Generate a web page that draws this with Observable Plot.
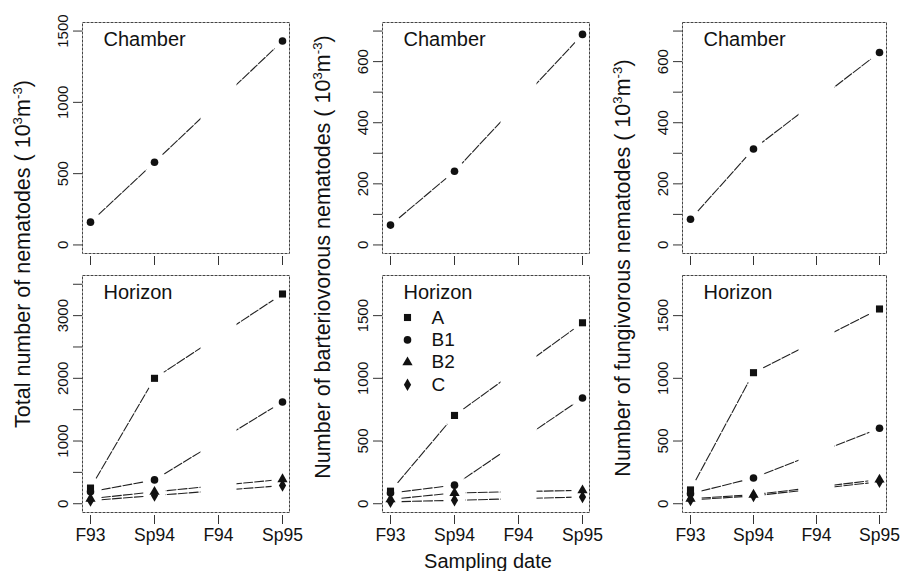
<!DOCTYPE html>
<html><head><meta charset="utf-8">
<script src="https://cdn.jsdelivr.net/npm/d3@7"></script>
<script src="https://cdn.jsdelivr.net/npm/@observablehq/plot@0.6"></script>
<style>
body{margin:0;background:#fff;}
#fig{position:relative;width:901px;height:571px;font-family:"Liberation Sans",Arial,Helvetica,sans-serif;color:#111;overflow:hidden;background:#fff}
.panel{position:absolute;overflow:visible}
.ytitle{position:absolute;white-space:nowrap;font-size:21.5px;transform:translate(-50%,-50%) rotate(-90deg);}
.ytitle sup{font-size:0.62em;vertical-align:0.55em;line-height:0}
.xtitle{position:absolute;white-space:nowrap;font-size:20px;transform:translate(-50%,-50%);}
</style></head><body><div id="fig"></div>
<script>
// ---- data ----
const dates = ["F93", "Sp94", "F94", "Sp95"];
const sampled = ["F93", "Sp94", "Sp95"];
const horizons = ["A", "B1", "B2", "C"];
const horizonSymbols = ["square", "circle", "triangle", "diamond"];

const chamberTotal = [160, 580, 1430];
const chamberBact = [65, 241, 689];
const chamberFung = [84, 314, 630];

const totalA = [250, 2000, 3345];
const totalB1 = [190, 380, 1623];
const totalB2 = [80, 190, 390];
const totalC = [50, 130, 290];

const bactA = [100, 704, 1443];
const bactB1 = [85, 148, 843];
const bactB2 = [35, 86, 107];
const bactC = [15, 27, 54];

const fungA = [110, 1045, 1553];
const fungB1 = [80, 205, 602];
const fungB2 = [40, 72, 192];
const fungC = [30, 62, 175];

const ticksTotalTop = [0, 500, 1000, 1500];
const labelsTotalTop = [0, 500, 1000, 1500];
const ticksGroupTop = [0, 100, 200, 300, 400, 500, 600, 700];
const labelsGroupTop = [0, 200, 400, 600];
const ticksTotalBottom = [0, 500, 1000, 1500, 2000, 2500, 3000, 3500];
const labelsTotalBottom = [0, 1000, 2000, 3000];
const ticksGroupBottom = [0, 500, 1000, 1500];
const labelsGroupBottom = [0, 500, 1000, 1500];

const yTitles = [
  "Total number of nematodes ( 10<sup>3</sup>m<sup>-3</sup>)",
  "Number of barteriovorous nematodes ( 10<sup>3</sup>m<sup>-3</sup>)",
  "Number of fungivorous nematodes ( 10<sup>3</sup>m<sup>-3</sup>)"
];
const xTitle = "Sampling date";

// ---- drawing ----
const fig = document.getElementById("fig");
const FONT = "Liberation Sans, Arial, Helvetica, sans-serif";

function toRows(name, values) {
  return values.map((v, i) => ({date: sampled[i], value: v, h: name}));
}

function panel({col, row, series, yDomain, yTicks, yLabels, label, legend}) {
  const top = row === 0 ? 0 : 255;
  const height = row === 0 ? 275 : 316;
  const mt = row === 0 ? 22 : 20;
  const mb = row === 0 ? 22 : 59;
  const mr = col === 2 ? 14 : 11;
  const all = series.flatMap(s => toRows(s.name, s.values));
  const marks = [];
  for (const s of series) {
    marks.push(Plot.line(toRows(s.name, s.values), {x: "date", y: "value", stroke: "#222", strokeWidth: 1.1, strokeDasharray: "9,2"}));
  }
  marks.push(Plot.ruleX(["F94"], {x: d => d, stroke: "white", strokeWidth: 36}));
  marks.push(Plot.dot(all, {x: "date", y: "value", r: 11, fill: "white", stroke: null}));
  for (const s of series) {
    marks.push(Plot.dot(toRows(s.name, s.values), {x: "date", y: "value", symbol: s.symbol, r: s.symbol === "square" ? 4 : 3.8, fill: "#111", stroke: null}));
  }
  marks.push(Plot.text([label], {frameAnchor: "top-left", dx: 21, dy: 17, textAnchor: "start", lineAnchor: "middle", fontSize: 20, fill: "#111"}));
  if (legend) {
    horizons.forEach((h, i) => {
      marks.push(Plot.dot([h], {frameAnchor: "top-left", dx: 25, dy: 42 + 22.4 * i, symbol: horizonSymbols[i], r: horizonSymbols[i] === "square" ? 4 : 3.8, fill: "#111", stroke: null}));
      marks.push(Plot.text([h], {frameAnchor: "top-left", dx: 49, dy: 42 + 22.4 * i, textAnchor: "start", lineAnchor: "middle", fontSize: 19, fill: "#111"}));
    });
  }
  marks.push(Plot.frame({stroke: "#444", strokeWidth: 1, strokeDasharray: "3,1"}));
  marks.push(Plot.axisY(yTicks, {tickSize: 9, tickPadding: 6, tickRotate: -90, fontSize: 15, tickFormat: d => yLabels.includes(d) ? String(d) : "", stroke: "#333"}));
  marks.push(Plot.axisX(dates, {tickSize: 9, dy: 3, tickPadding: 4, fontSize: 17.5, tickFormat: row === 1 ? (d => d) : (() => ""), stroke: "#333"}));
  const svg = Plot.plot({
    width: 300, height,
    marginLeft: 82, marginRight: mr, marginTop: mt, marginBottom: mb,
    style: {fontFamily: FONT, color: "#111", background: "transparent", overflow: "visible"},
    x: {type: "point", domain: dates, padding: 0.117, label: null},
    y: {domain: yDomain, label: null},
    marks
  });
  svg.classList.add("panel");
  svg.style.left = (col * 300) + "px";
  svg.style.top = top + "px";
  fig.appendChild(svg);
}

const hs = (a, b1, b2, c) => [
  {name: "A", values: a, symbol: "square"},
  {name: "B1", values: b1, symbol: "circle"},
  {name: "B2", values: b2, symbol: "triangle"},
  {name: "C", values: c, symbol: "diamond"}
];

panel({col: 0, row: 0, series: [{name: "Chamber", values: chamberTotal, symbol: "circle"}], yDomain: [-60, 1560], yTicks: ticksTotalTop, yLabels: labelsTotalTop, label: "Chamber"});
panel({col: 1, row: 0, series: [{name: "Chamber", values: chamberBact, symbol: "circle"}], yDomain: [-28, 728], yTicks: ticksGroupTop, yLabels: labelsGroupTop, label: "Chamber"});
panel({col: 2, row: 0, series: [{name: "Chamber", values: chamberFung, symbol: "circle"}], yDomain: [-28, 728], yTicks: ticksGroupTop, yLabels: labelsGroupTop, label: "Chamber"});
panel({col: 0, row: 1, series: hs(totalA, totalB1, totalB2, totalC), yDomain: [-140, 3640], yTicks: ticksTotalBottom, yLabels: labelsTotalBottom, label: "Horizon"});
panel({col: 1, row: 1, series: hs(bactA, bactB1, bactB2, bactC), yDomain: [-70, 1820], yTicks: ticksGroupBottom, yLabels: labelsGroupBottom, label: "Horizon", legend: true});
panel({col: 2, row: 1, series: hs(fungA, fungB1, fungB2, fungC), yDomain: [-70, 1820], yTicks: ticksGroupBottom, yLabels: labelsGroupBottom, label: "Horizon"});

const titleX = [23, 323, 623];
const titleY = [254, 257, 268];
yTitles.forEach((t, i) => {
  const d = document.createElement("div");
  d.className = "ytitle";
  d.innerHTML = t;
  d.style.left = titleX[i] + "px";
  d.style.top = titleY[i] + "px";
  fig.appendChild(d);
});
const xt = document.createElement("div");
xt.className = "xtitle";
xt.textContent = xTitle;
xt.style.left = "488px";
xt.style.top = "561px";
fig.appendChild(xt);
</script></body></html>
